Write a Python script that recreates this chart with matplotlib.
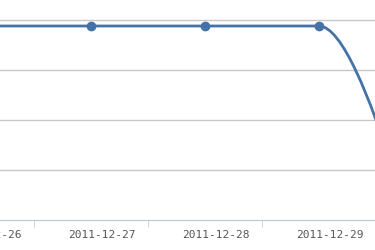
"""Cropped spline line chart, daily values around end of December 2011."""

import numpy as np
import matplotlib.pyplot as plt
from matplotlib.path import Path
from matplotlib.patches import PathPatch
from matplotlib.transforms import ScaledTranslation, blended_transform_factory

dates = ['2011-12-26', '2011-12-27', '2011-12-28', '2011-12-29', '2011-12-30']
values = [3.88, 3.88, 3.88, 3.88, -1.9]

LINE = '#4572A7'


def _spline_path(xs, ys, smoothing=1.5):
    """Build a smooth bezier path through the points (highcharts style)."""
    n = len(xs)
    left = [None] * n
    right = [None] * n
    denom = smoothing + 1
    for i in range(1, n - 1):
        lcx = (smoothing * xs[i] + xs[i - 1]) / denom
        lcy = (smoothing * ys[i] + ys[i - 1]) / denom
        rcx = (smoothing * xs[i] + xs[i + 1]) / denom
        rcy = (smoothing * ys[i] + ys[i + 1]) / denom
        corr = (rcy - lcy) * (rcx - xs[i]) / (rcx - lcx) + ys[i] - rcy
        lcy += corr
        rcy += corr
        # keep control points from overshooting neighbours
        if (lcy > ys[i - 1] and lcy > ys[i]) or (lcy < ys[i - 1] and lcy < ys[i]):
            lcy = max(ys[i - 1], ys[i]) if lcy > ys[i] else min(ys[i - 1], ys[i])
            rcy = 2 * ys[i] - lcy
        if (rcy > ys[i + 1] and rcy > ys[i]) or (rcy < ys[i + 1] and rcy < ys[i]):
            rcy = max(ys[i + 1], ys[i]) if rcy > ys[i] else min(ys[i + 1], ys[i])
            lcy = 2 * ys[i] - rcy
        left[i] = (lcx, lcy)
        right[i] = (rcx, rcy)

    verts = [(xs[0], ys[0])]
    codes = [Path.MOVETO]
    for i in range(1, n):
        c1 = right[i - 1] or (xs[i - 1], ys[i - 1])
        c2 = left[i] or (xs[i], ys[i])
        verts += [c1, c2, (xs[i], ys[i])]
        codes += [Path.CURVE4] * 3
    return Path(verts, codes)


fig = plt.figure(figsize=(3.75, 2.5), dpi=100)
ax = fig.add_axes([0, 30 / 250, 1, 220 / 250])

x = np.arange(len(dates))
ax.add_patch(PathPatch(_spline_path(list(x), values), fill=False,
                       edgecolor=LINE, linewidth=2, capstyle='round', zorder=3))
ax.plot(x[:-1], values[:-1], 'o', color=LINE, markersize=6, zorder=4)

# grid
ax.set_yticks([1, 2, 3, 4])
ax.yaxis.grid(True, color='#C8C8C8', linewidth=1)
ax.tick_params(axis='y', left=False, labelleft=False)

# tick marks sit between categories
ax.set_xticks([])
ax.set_xticks(x[:-1] + 0.5, minor=True)
ax.tick_params(axis='x', which='minor', length=5, color='#C0D0E0', direction='out')

ax.set_xlim(0.2018, 3.491)
ax.set_ylim(0, 4.4)

# category labels, shifted a bit to the right as in the original
# (the last date falls outside the cropped view, so it gets no label)
trans = blended_transform_factory(ax.transData, ax.transAxes) + \
    ScaledTranslation(11 / 100, -15 / 100, fig.dpi_scale_trans)
for xi, d in zip(x[:-1], dates[:-1]):
    ax.text(xi, 0, d, transform=trans, ha='center', va='center',
            family='DejaVu Sans Mono', fontsize=8, color='#555555', clip_on=False)

for side in ['top', 'left', 'right']:
    ax.spines[side].set_visible(False)
ax.spines['bottom'].set_color('#C0C8D0')
ax.set_axisbelow(True)

fig.savefig('out.png', dpi=100)
